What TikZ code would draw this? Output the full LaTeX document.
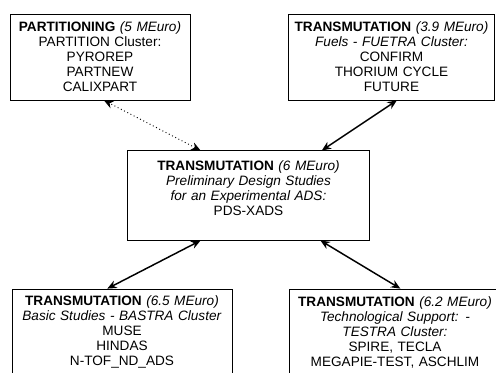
\documentclass[tikz,border=0pt]{standalone}
\usepackage{fontspec}
\setmainfont{Liberation Sans}
\usetikzlibrary{arrows.meta}

\begin{document}
\begin{tikzpicture}[x=0.75pt,y=-0.75pt,
    box/.style={draw, line width=0.6pt, align=center, inner sep=0pt,
        font=\fontsize{10.2}{11.25}\selectfont, minimum height=64.5pt},
    link/.style={{Stealth[length=7pt,width=6pt]}-{Stealth[length=7pt,width=6pt]}, line width=1.1pt}]
\useasboundingbox (0,0) rectangle (496,372);
\node [box, minimum width=135pt, text width=133pt] (part) at (100,57)
    {\textbf{PARTITIONING} \textit{(5 MEuro)}\\ PARTITION Cluster:\\ PYROREP\\ PARTNEW\\ CALIXPART};
\node [box, minimum width=155pt, text width=153pt] (fuel) at (391.5,57)
    {\textbf{TRANSMUTATION} \textit{(3.9 MEuro)}\\ \textit{Fuels - FUETRA Cluster:}\\ CONFIRM\\ THORIUM CYCLE\\ FUTURE};
\node [box, minimum width=181pt, text width=179pt, minimum height=67pt] (pds) at (248.5,195.5)
    {\textbf{TRANSMUTATION} \textit{(6 MEuro)}\\ \textit{Preliminary Design Studies}\\ \textit{for an Experimental ADS:}\\ PDS-XADS\\ \mbox{}};
\node [box, minimum width=165pt, text width=163pt] (bastra) at (122,332)
    {\textbf{TRANSMUTATION} \textit{(6.5 MEuro)}\\ \textit{Basic Studies - BASTRA Cluster}\\ MUSE\\ HINDAS\\ N-TOF\_ND\_ADS};
\node [box, minimum width=159pt, text width=157pt] (testra) at (395,332)
    {\textbf{TRANSMUTATION} \textit{(6.2 MEuro)}\\ \textit{Technological Support: -}\\ \textit{TESTRA Cluster:}\\ SPIRE, TECLA\\ MEGAPIE-TEST, ASCHLIM};
\path ([xshift=-36pt]pds.north) edge [link, line width=0.7pt, dotted] ([xshift=3pt]part.south);
\path ([xshift=55pt]pds.north) edge [link] ([xshift=4pt]fuel.south);
\path ([xshift=-36pt]pds.south) edge [link] ([xshift=-11pt]bastra.north);
\path ([xshift=54pt]pds.south) edge [link] ([xshift=4pt]testra.north);
\end{tikzpicture}
\end{document}
